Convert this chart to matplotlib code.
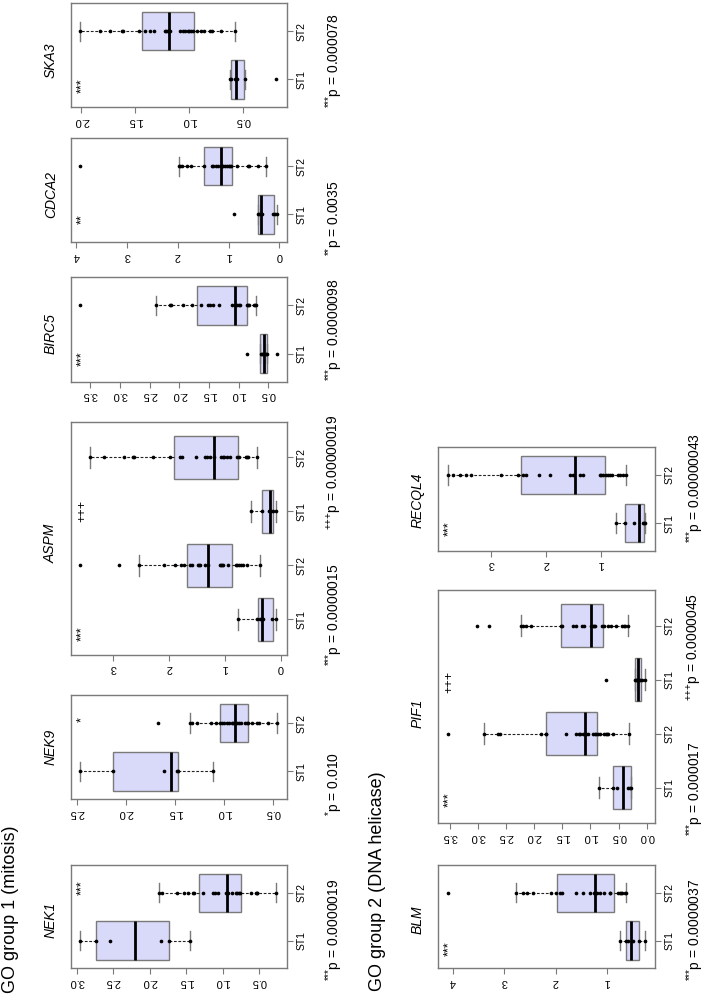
import numpy as np
import matplotlib.pyplot as plt

plt.rcParams['font.family'] = ['Liberation Sans', 'DejaVu Sans']
plt.rcParams['mathtext.fontset'] = 'custom'
plt.rcParams['mathtext.rm'] = 'Liberation Sans'

W, H = 706, 996

# ---- data: expression values per group (ST1, ST2, ...) ----
SKA3_ST1 = [0.624, 0.609, 0.578, 0.557, 0.485, 0.197]
SKA3_ST2 = [2.01, 1.824, 1.737, 1.62, 1.614, 1.466, 1.41, 1.366, 1.327, 1.221, 1.212, 1.202, 1.197, 1.181,
            1.088, 1.063, 1.039, 1.011, 1.002, 0.989, 0.97, 0.933, 0.893, 0.863, 0.81, 0.794, 0.708, 0.575]
CDCA2_ST1 = [0.892, 0.413, 0.394, 0.366, 0.346, 0.118, 0.085, 0.051]
CDCA2_ST2 = [3.923, 1.974, 1.955, 1.922, 1.823, 1.744, 1.482, 1.331, 1.299, 1.246, 1.201, 1.154, 1.134, 1.102,
             1.063, 1.024, 0.984, 0.97, 0.951, 0.827, 0.61, 0.59, 0.425, 0.268]
BIRC5_ST1 = [0.864, 0.628, 0.611, 0.584, 0.556, 0.539, 0.527, 0.359]
BIRC5_ST2 = [3.67, 2.396, 2.155, 2.138, 1.931, 1.779, 1.633, 1.51, 1.481, 1.436, 1.325, 1.106, 1.061, 1.022,
             0.998, 0.976, 0.854, 0.837, 0.82, 0.741, 0.724, 0.707]
ASPM_ST1a = [0.763, 0.424, 0.376, 0.346, 0.316, 0.167, 0.089]
ASPM_ST2a = [3.596, 2.898, 2.535, 2.093, 1.896, 1.789, 1.735, 1.628, 1.598, 1.479, 1.461, 1.449, 1.36, 1.3,
             1.091, 1.079, 1.061, 1.043, 0.954, 0.805, 0.781, 0.745, 0.721, 0.674, 0.614, 0.376]
ASPM_ST1b = [0.542, 0.346, 0.209, 0.185, 0.137, 0.089]
ASPM_ST2b = [3.417, 3.166, 2.809, 2.653, 2.63, 2.295, 1.986, 1.807, 1.776, 1.521, 1.36, 1.33, 1.27, 1.199,
             1.079, 1.043, 1.02, 0.971, 0.912, 0.793, 0.745, 0.626, 0.614, 0.584, 0.424]
NEK9_ST1 = [2.466, 2.128, 1.612, 1.477, 1.466, 1.11]
NEK9_ST2 = [1.67, 1.347, 1.33, 1.279, 1.137, 1.083, 1.042, 1.025, 1.002, 0.974, 0.948, 0.923, 0.907, 0.89,
            0.866, 0.846, 0.832, 0.788, 0.771, 0.754, 0.72, 0.669, 0.642, 0.551, 0.465]
NEK1_ST1 = [2.955, 2.736, 2.544, 1.849, 1.731, 1.448]
NEK1_ST2 = [1.868, 1.836, 1.622, 1.53, 1.471, 1.411, 1.393, 1.266, 1.129, 1.105, 1.06, 0.955, 0.937, 0.923,
            0.877, 0.818, 0.8, 0.773, 0.763, 0.616, 0.544, 0.534, 0.526, 0.27]
RECQL4_ST1 = [0.727, 0.575, 0.411, 0.242, 0.23, 0.212]
RECQL4_ST2 = [3.787, 3.696, 3.575, 3.454, 3.364, 2.818, 2.515, 2.424, 2.364, 2.133, 1.939, 1.575, 1.515, 1.393,
              1.333, 1.03, 1.0, 0.97, 0.921, 0.879, 0.848, 0.8, 0.697, 0.655, 0.606, 0.545]
PIF1_ST1a = [0.847, 0.599, 0.527, 0.333, 0.303, 0.274]
PIF1_ST2a = [3.530, 2.896, 2.642, 2.612, 1.872, 1.795, 1.784, 1.439, 1.251, 1.203, 1.180, 1.132, 1.074, 1.044,
             0.954, 0.924, 0.896, 0.866, 0.836, 0.765, 0.729, 0.705, 0.688, 0.599, 0.315]
PIF1_ST1b = [0.718, 0.214, 0.184, 0.173, 0.137, 0.113, 0.079, 0.036]
PIF1_ST2b = [3.009, 2.807, 2.228, 2.198, 2.150, 2.050, 1.518, 1.499, 1.310, 1.262, 1.145, 1.120, 0.984, 0.954,
             0.942, 0.924, 0.789, 0.765, 0.688, 0.630, 0.540, 0.434, 0.409, 0.391, 0.333]
BLM_ST1 = [0.753, 0.636, 0.591, 0.493, 0.376, 0.265]
BLM_ST2 = [4.099, 2.768, 2.637, 2.559, 2.443, 2.097, 1.988, 1.922, 1.871, 1.61, 1.468, 1.337, 1.26, 1.189,
           1.143, 1.065, 0.948, 0.935, 0.786, 0.753, 0.721, 0.701, 0.655, 0.623]

# box stats (q1, median, q3, lower whisker, upper whisker), as drawn
SKA3_BOX = [(0.492, 0.563, 0.615, 0.485, 0.624), (0.955, 1.189, 1.443, 0.575, 2.01)]
CDCA2_BOX = [(0.104, 0.36, 0.413, 0.051, 0.413), (0.937, 1.148, 1.476, 0.268, 1.974)]
BIRC5_BOX = [(0.527, 0.572, 0.64, 0.527, 0.64), (0.854, 1.061, 1.705, 0.707, 2.396)]
ASPM_BOX = [(0.149, 0.346, 0.417, 0.089, 0.763), (0.882, 1.30, 1.676, 0.376, 2.535),
            (0.137, 0.197, 0.346, 0.089, 0.542), (0.763, 1.199, 1.908, 0.424, 3.417)]
NEK9_BOX = [(1.473, 1.544, 2.128, 1.11, 2.466), (0.754, 0.89, 1.042, 0.465, 1.347)]
NEK1_BOX = [(1.731, 2.201, 2.736, 1.448, 2.955), (0.753, 0.945, 1.325, 0.27, 1.868)]
RECQL4_BOX = [(0.224, 0.32, 0.575, 0.212, 0.727), (0.927, 1.485, 2.455, 0.545, 3.787)]
PIF1_BOX = [(0.284, 0.422, 0.599, 0.274, 0.847), (0.878, 1.102, 1.784, 0.315, 2.896),
            (0.102, 0.155, 0.214, 0.036, 0.214), (0.771, 0.984, 1.518, 0.333, 2.228)]
BLM_BOX = [(0.376, 0.538, 0.636, 0.265, 0.753), (0.864, 1.24, 1.968, 0.62, 2.768)]

# p-value labels and significance marks
SKA3_P = [('***', '0.000078')]
CDCA2_P = [('**', '0.0035')]
BIRC5_P = [('***', '0.0000098')]
ASPM_P = [('***', '0.0000015'), ('+++', '0.00000019')]
NEK9_P = [('*', '0.010')]
NEK1_P = [('***', '0.0000019')]
RECQL4_P = [('***', '0.00000043')]
PIF1_P = [('***', '0.000017'), ('+++', '0.0000045')]
BLM_P = [('***', '0.0000037')]

# ---- layout (pixels in the 706x996 picture) ----
BOX_FC = '#d9d9f9'
EDGE = '#7a7a7a'
G1_X = (70.7, 286.7)
G2_X = (438.0, 654.7)

panels = [
    # name, points, boxes, p labels, x-range, y-range, value limits, ticks, title y, p y list, stars (label, cat)
    ('SKA3', [SKA3_ST1, SKA3_ST2], SKA3_BOX, SKA3_P, G1_X, (3.3, 107.3), (0.097, 2.10),
     [0.5, 1.0, 1.5, 2.0], 60, [61], [('***', 0.875)]),
    ('CDCA2', [CDCA2_ST1, CDCA2_ST2], CDCA2_BOX, CDCA2_P, G1_X, (138.3, 242.3), (-0.146, 4.11),
     [0, 1, 2, 3, 4], 194, [218], [('**', 0.9)]),
    ('BIRC5', [BIRC5_ST1, BIRC5_ST2], BIRC5_BOX, BIRC5_P, G1_X, (277.3, 381.7), (0.19, 3.83),
     [0.5, 1.0, 1.5, 2.0, 2.5, 3.0, 3.5], 334, [330], [('***', 0.9)]),
    ('ASPM', [ASPM_ST1a, ASPM_ST2a, ASPM_ST1b, ASPM_ST2b], ASPM_BOX, ASPM_P, G1_X, (421.7, 655.0),
     (-0.102, 3.762), [0, 1, 2, 3], 543, [615, 472], [('***', 0.74), ('+++', 3.0)]),
    ('NEK9', [NEK9_ST1, NEK9_ST2], NEK9_BOX, NEK9_P, G1_X, (695.0, 799.3), (0.364, 2.561),
     [0.5, 1.0, 1.5, 2.0, 2.5], 747, [784], [('*', 2.08)]),
    ('NEK1', [NEK1_ST1, NEK1_ST2], NEK1_BOX, NEK1_P, G1_X, (865.0, 968.3), (0.123, 3.082),
     [0.5, 1.0, 1.5, 2.0, 2.5, 3.0], 920, [930], [('***', 2.1)]),
    ('RECQL4', [RECQL4_ST1, RECQL4_ST2], RECQL4_BOX, RECQL4_P, G2_X, (447.0, 551.0), (0.029, 3.969),
     [1, 2, 3], 500, [488], [('***', 0.89)]),
    ('PIF1', [PIF1_ST1a, PIF1_ST2a, PIF1_ST1b, PIF1_ST2b], PIF1_BOX, PIF1_P, G2_X, (590.0, 823.3),
     (-0.142, 3.708), [0.0, 0.5, 1.0, 1.5, 2.0, 2.5, 3.0, 3.5], 713, [789, 647], [('***', 0.78), ('+++', 2.95)]),
    ('BLM', [BLM_ST1, BLM_ST2], BLM_BOX, BLM_P, G2_X, (865.0, 968.3), (0.07, 4.294),
     [1, 2, 3, 4], 920, [930], [('***', 0.83)]),
]

fig = plt.figure(figsize=(W / 100, H / 100), dpi=100)

for name, pts, boxes, plabs, xr, yr, lim, ticks, ty, py, stars in panels:
    x0, x1 = xr
    y0, y1 = yr
    ax = fig.add_axes([x0 / W, 1 - y1 / H, (x1 - x0) / W, (y1 - y0) / H])
    n = len(pts)
    pos = np.arange(1, n + 1)
    stats = [dict(q1=b[0], med=b[1], q3=b[2], whislo=b[3], whishi=b[4], fliers=[]) for b in boxes]
    ax.bxp(stats, positions=pos, widths=0.8, orientation='horizontal', patch_artist=True,
           showfliers=False,
           boxprops=dict(facecolor=BOX_FC, edgecolor=EDGE, linewidth=1),
           medianprops=dict(color='black', linewidth=2),
           whiskerprops=dict(color='#222222', linewidth=0.8, linestyle=(0, (2.5, 1.5))),
           capprops=dict(color=EDGE, linewidth=1))
    for p, vals in zip(pos, pts):
        ax.scatter(vals, [p] * len(vals), s=7, color='black', linewidths=0, zorder=3)

    ax.set_xlim(lim[1], lim[0])
    ax.set_ylim(0.5 - 0.04 * n, n + 0.5 + 0.04 * n)

    ax.set_xticks(ticks)
    step = ticks[1] - ticks[0]
    if step < 1:
        ax.set_xticklabels(['%.1f' % t for t in ticks])
    else:
        ax.set_xticklabels(['%d' % t for t in ticks])
    ax.tick_params(axis='x', labelrotation=180, labelsize=8, length=4, color=EDGE, pad=2)

    ax.yaxis.tick_right()
    ax.set_yticks(pos)
    ax.set_yticklabels(['ST1', 'ST2'] * (n // 2))
    ax.tick_params(axis='y', labelrotation=90, labelsize=7.5, length=4, color=EDGE, pad=3)
    for lab in ax.get_yticklabels():
        lab.set_va('center')
        lab.set_ha('left')

    for sp in ax.spines.values():
        sp.set_color(EDGE)
        sp.set_linewidth(1)

    for lab, cy in stars:
        ax.text(0.052, cy, lab, transform=ax.get_yaxis_transform(), rotation=90,
                ha='center', va='center', fontsize=9)

    title_x = 51 if xr == G1_X else 418
    fig.text(title_x / W, 1 - ty / H, name, rotation=90, ha='center', va='center',
             fontsize=10, style='italic')

    p_x = 334 if xr == G1_X else 695
    for (sig, pval), yy in zip(plabs, py):
        fig.text(p_x / W, 1 - yy / H, r'$^{\text{%s}}$p = %s' % (sig, pval), rotation=90,
                 ha='center', va='center', fontsize=10)

fig.text(11 / W, 1 - 993 / H, 'GO group 1 (mitosis)', rotation=90, ha='center', va='bottom', fontsize=13)
fig.text(377 / W, 1 - 991 / H, 'GO group 2 (DNA helicase)', rotation=90, ha='center', va='bottom', fontsize=13)

fig.savefig('out.png', dpi=100)
